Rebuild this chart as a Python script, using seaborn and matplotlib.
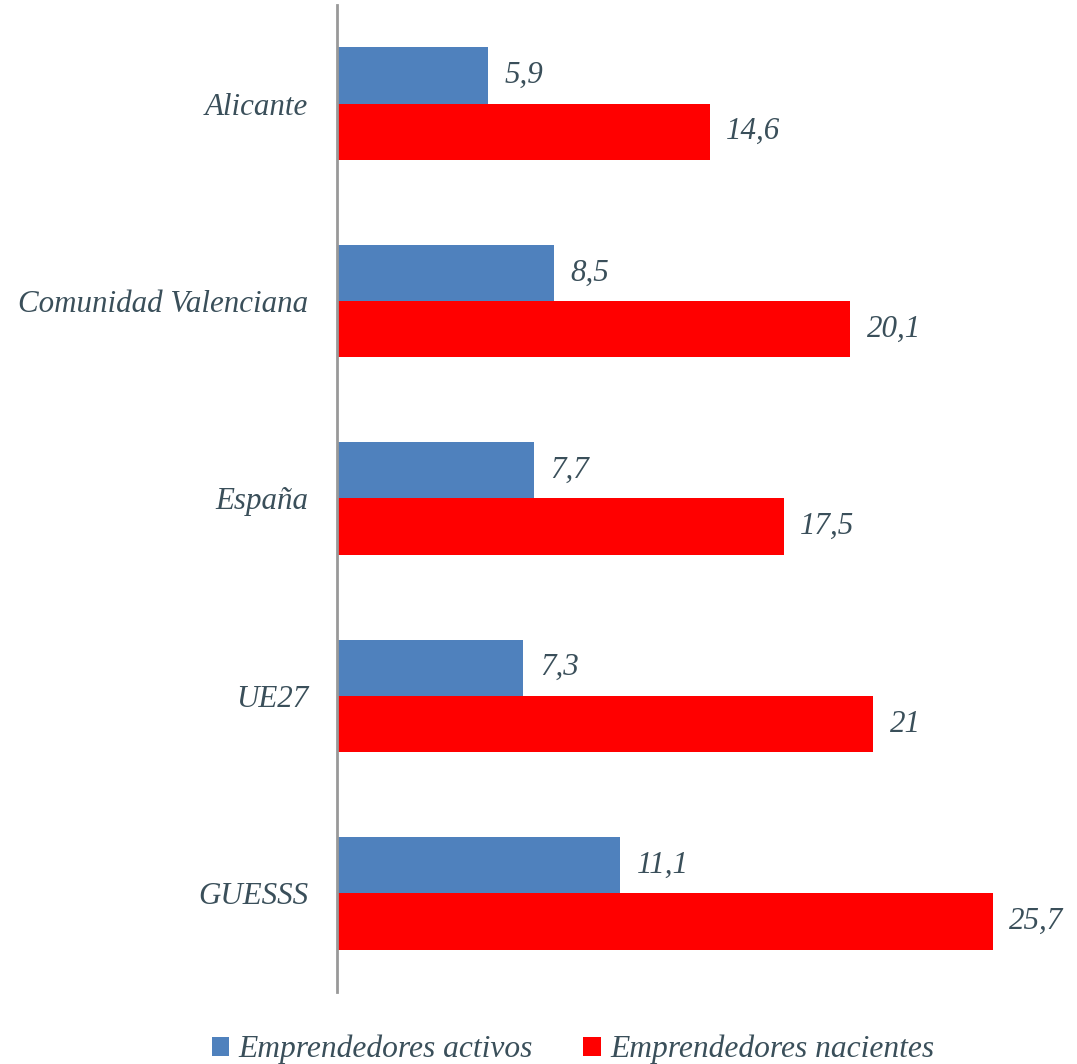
import pandas as pd
import matplotlib.pyplot as plt
import seaborn as sns

# -----------------------------
# Data
# -----------------------------
categories = ["Alicante", "Comunidad Valenciana", "España", "UE27", "GUESSS"]
activos = [5.9, 8.5, 7.7, 7.3, 11.1]
nacientes = [14.6, 20.1, 17.5, 21, 25.7]
series = ["Emprendedores activos", "Emprendedores nacientes"]
value_labels_activos = ["5,9", "8,5", "7,7", "7,3", "11,1"]
value_labels_nacientes = ["14,6", "20,1", "17,5", "21", "25,7"]

df = pd.DataFrame({
    "categoria": categories * 2,
    "serie": [series[0]] * 5 + [series[1]] * 5,
    "valor": activos + nacientes,
})

# -----------------------------
# Plot
# -----------------------------
sns.set_style("white")
plt.rcParams["font.family"] = ["Liberation Serif", "DejaVu Serif"]
text_color = "#3a4f5a"

fig = plt.figure(figsize=(10.77, 10.64), dpi=100)
ax = fig.add_axes([0.313, 0.0677, 0.687, 0.9276])

sns.barplot(data=df, y="categoria", x="valor", hue="serie", orient="h",
            palette=["#4f81bd", "#ff0000"], width=0.57, gap=0,
            saturation=1, linewidth=0, ax=ax, legend=True)

ax.set_xlim(0, 29)
ax.set_ylim(4.5, -0.5)
ax.set_xlabel("")
ax.set_ylabel("")
ax.set_xticks([])
for s in ["top", "right", "bottom"]:
    ax.spines[s].set_visible(False)
ax.spines["left"].set_color("#999999")
ax.spines["left"].set_linewidth(2)

ax.tick_params(axis="y", length=0, pad=21)
for lbl in ax.get_yticklabels():
    lbl.set_fontsize(22.3)
    lbl.set_style("italic")
    lbl.set_color(text_color)

# value labels
for container, labels in zip(ax.containers, [value_labels_activos, value_labels_nacientes]):
    ax.bar_label(container, labels=labels, padding=12, fontsize=22.3,
                 fontstyle="italic", color=text_color)

# legend at the bottom
handles, leg_labels = ax.get_legend_handles_labels()
ax.legend_.remove()
fig.legend(handles, leg_labels, loc="lower center", bbox_to_anchor=(0.532, -0.027),
           ncol=2, frameon=False, prop={"size": 22.7, "style": "italic"},
           handlelength=0.55, handleheight=0.55, handletextpad=0.3,
           columnspacing=1.6, labelcolor=text_color)

plt.savefig("out.png", dpi=100)
